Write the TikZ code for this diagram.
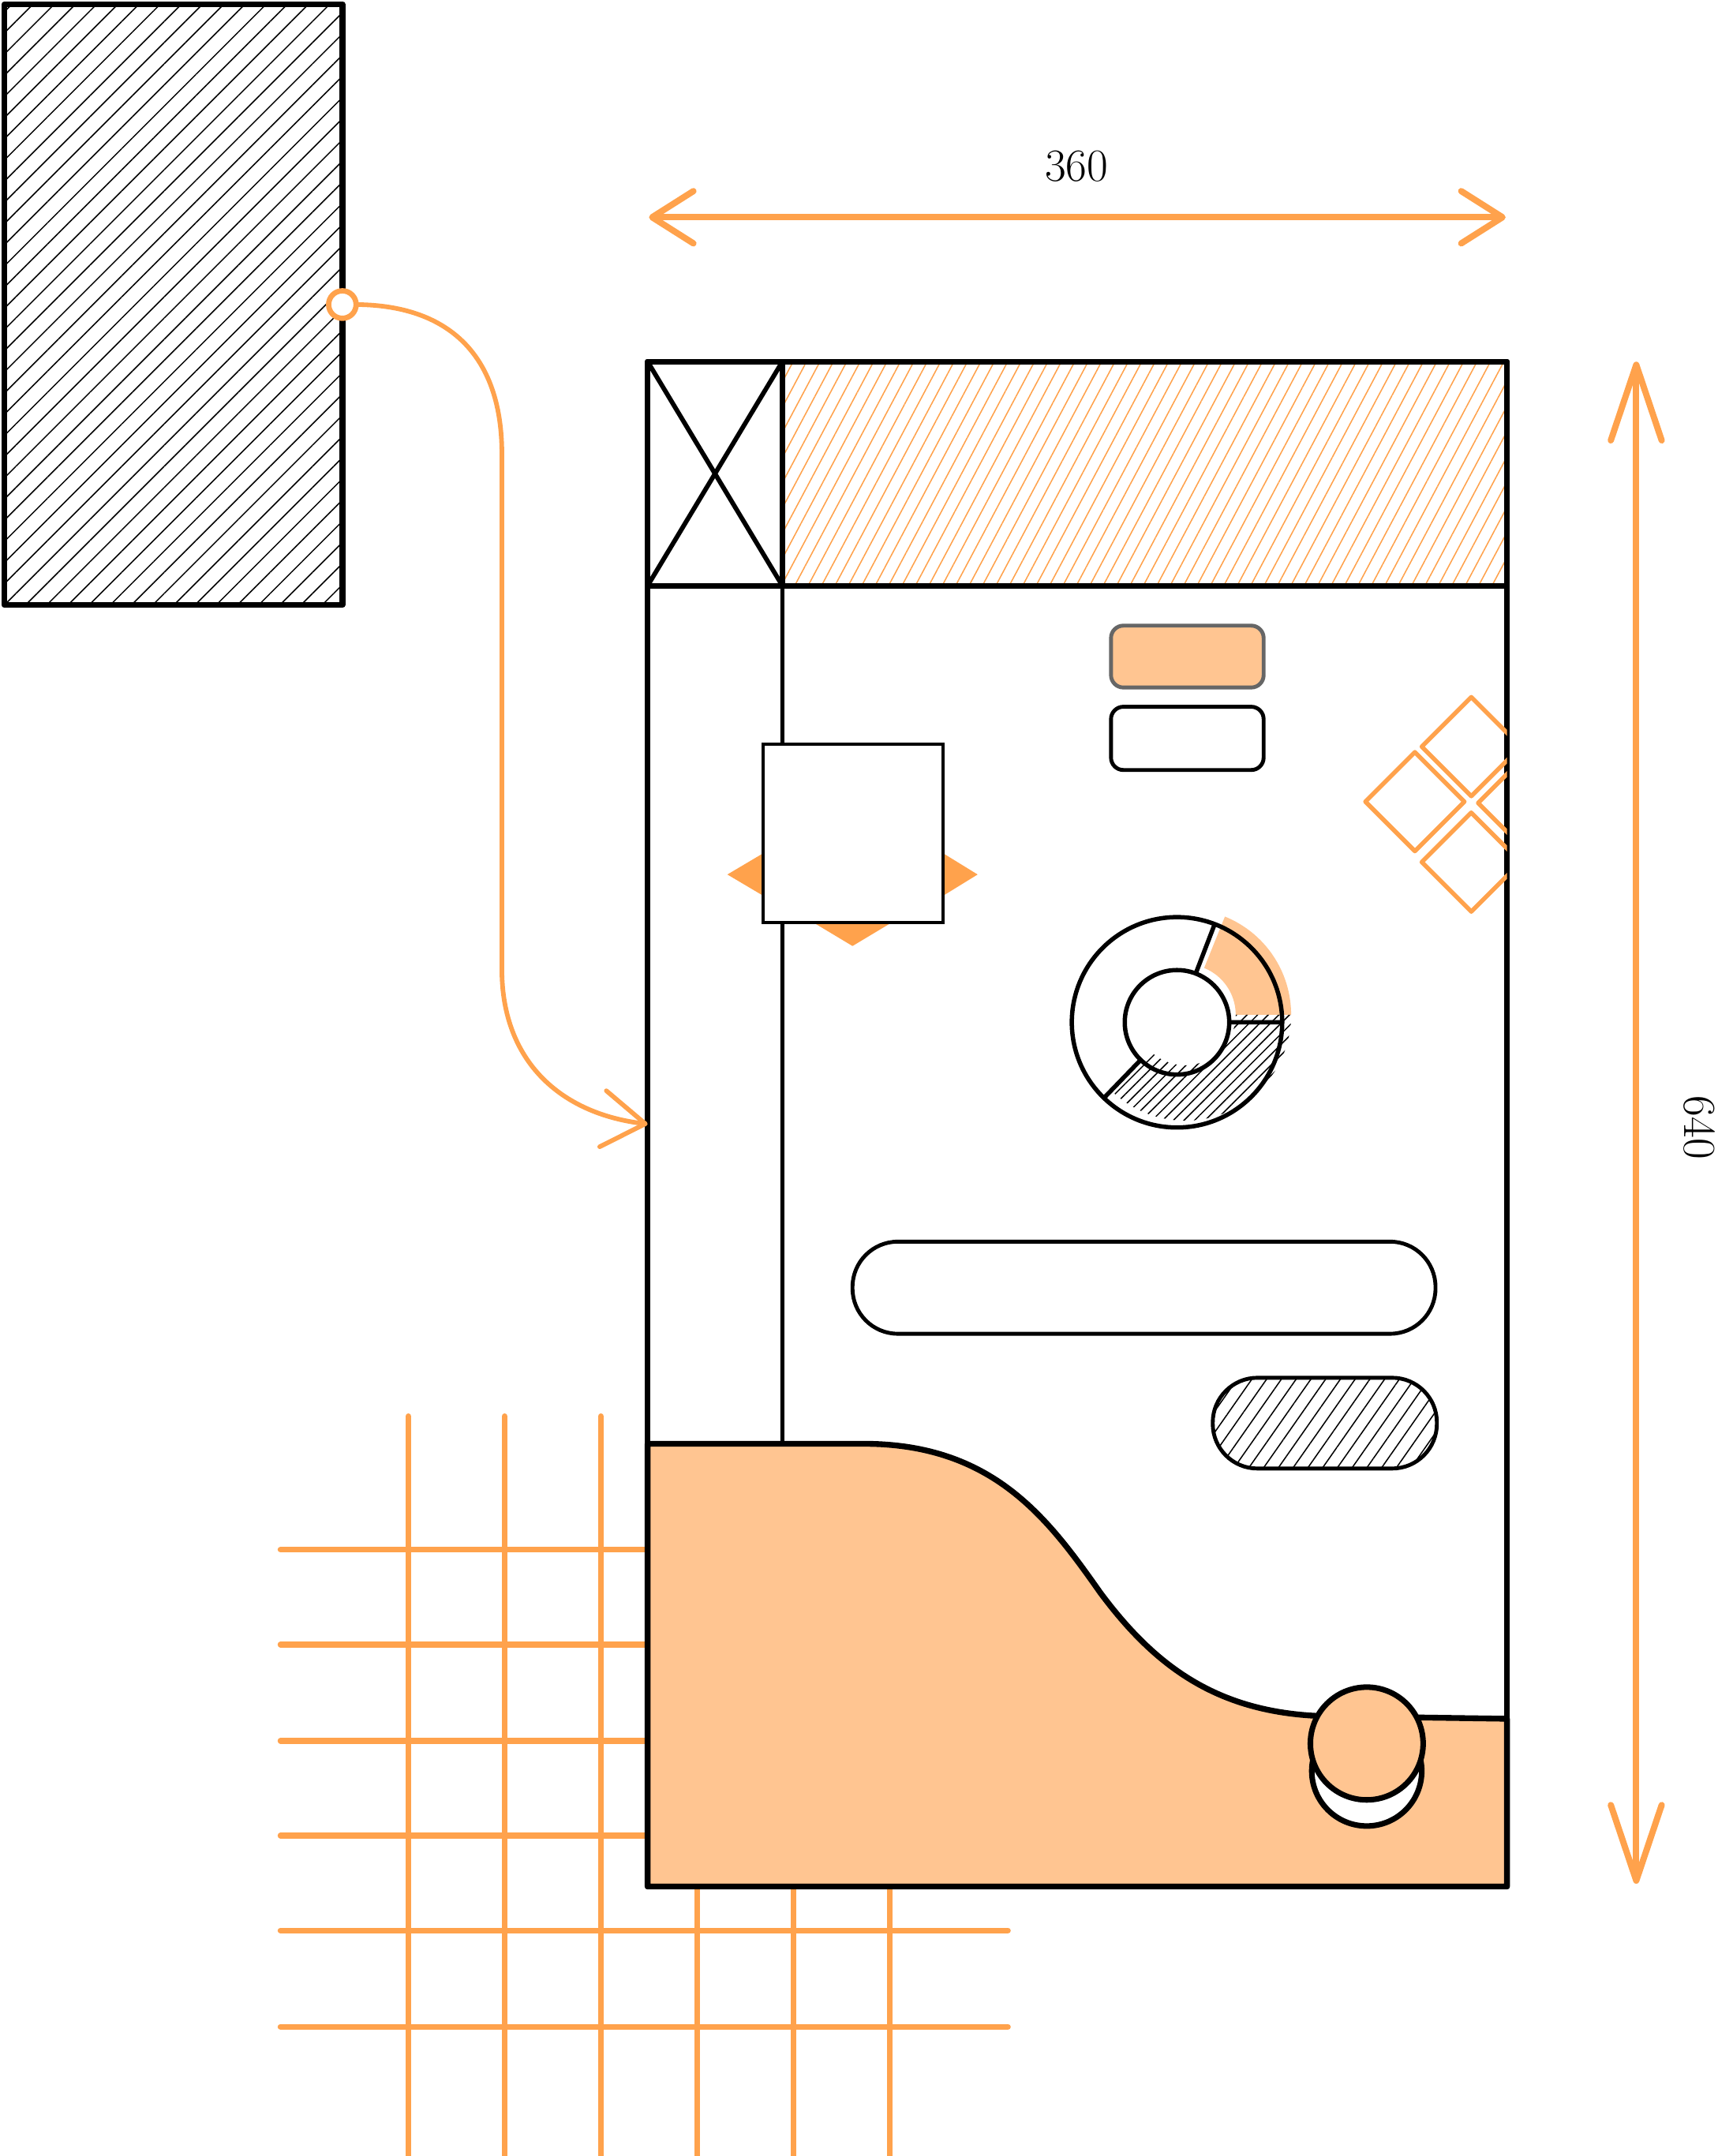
\documentclass[tikz,border=0pt]{standalone}
\usepackage{tikz}
\usetikzlibrary{positioning,arrows.meta,calc,patterns.meta}
\definecolor{skorange}{HTML}{FFA24C}
\definecolor{skpeach}{HTML}{FFC591}
\definecolor{skgray}{HTML}{666666}
\tikzset{
  dimtip/.tip={Straight Barb[length=6mm,width=7.6mm,round]},
  vdimtip/.tip={Straight Barb[length=11mm,width=7.4mm,round]},
  wiretip/.tip={Straight Barb[length=6.2mm,width=8.2mm,round]},
}

\begin{document}
\begin{tikzpicture}[x=0.2mm,y=-0.2mm,node distance=3mm,
  plain/.style={rectangle,inner sep=0pt,outer sep=0pt},
  outline/.style={draw=black,line width=2.4pt,line join=round},
  thinline/.style={draw=black,line width=1.6pt},
  gridline/.style={draw=skorange,line width=2.4pt,line cap=round},
  dimline/.style={draw=skorange,line width=2.6pt,line cap=round},
  wire/.style={draw=skorange,line width=1.9pt,line cap=round,-wiretip},
  pillbtn/.style={plain,thinline,line width=1.6pt,rounded corners=1.8mm,minimum width=22.2mm,minimum height=9.2mm},
  hatchblack/.style={pattern={Lines[angle=45,distance=6.2pt,line width=0.5pt]},pattern color=black},
  hatchorange/.style={pattern={Lines[angle=62,distance=4.9pt,line width=0.5pt]},pattern color=skorange},
  hatchpill/.style={pattern={Lines[angle=55,distance=5pt,line width=0.5pt]},pattern color=black},
  hatchfine/.style={pattern={Lines[angle=45,distance=3.1pt,line width=0.5pt]},pattern color=black},
  label/.style={font=\fontsize{19}{22}\selectfont,inner sep=0pt}]
\useasboundingbox (0,0) rectangle (1249,1568);

\foreach \gx in {297,367,...,647}
  \draw[gridline] (\gx,1030) -- (\gx,1568);
\foreach \gy in {1127,1196,1266,1335,1404,1474}
  \draw[gridline] (204,\gy) -- (733,\gy);

\node[plain,outline,hatchblack,minimum width=49.2mm,minimum height=87.4mm] (ref) at (126,221.5) {};
\node[circle,draw=skorange,line width=2.2pt,fill=white,minimum size=4mm,inner sep=0pt,outer sep=0pt] (hook) at (ref.east) {};

\node[plain,outline,fill=white,minimum width=125mm,minimum height=221.8mm] (phone) at (783.5,817.5) {};
\node[plain,outline,minimum width=19.6mm,minimum height=32.6mm,anchor=north west] (xbox) at (phone.north west) {};
\node[plain,outline,hatchorange,minimum width=105.4mm,minimum height=32.6mm,anchor=north west] (header) at (xbox.north east) {};
\draw[line width=1.9pt] (xbox.north west) -- (xbox.south east) (xbox.south west) -- (xbox.north east);
\coordinate (waveTop) at (569,1050);
\draw[thinline] (xbox.south east) -- (waveTop);

\coordinate (bendA) at (365,330);
\coordinate (bendB) at (365,705);
\draw[wire] (hook.east) .. controls (330,222) and (365,262) .. (bendA) -- (bendB)
  .. controls (365,772) and (408,810) .. (phone.west);

\node[pillbtn,fill=skpeach,draw=skgray,minimum height=9mm] (btnA) at (863.5,477.5) {};
\node[pillbtn,fill=white,below=2.8mm of btnA] (btnB) {};

\fill[skorange] (529,636) -- (556,620) -- (556,652) -- cycle;
\fill[skorange] (711,636) -- (685,620) -- (685,652) -- cycle;
\fill[skorange] (620,688) -- (590,670) -- (650,670) -- cycle;
\node[plain,draw=black,line width=1.3pt,fill=white,minimum width=26.2mm,minimum height=26mm] (card) at (620.5,606) {};

\begin{scope}
  \clip (phone.north west) rectangle (phone.south east);
  \foreach \cx/\cy in {1029/583,1070/543,1070/627,1111/584}
    \draw[draw=skorange,line width=1.8pt,line join=round] (\cx-36,\cy) -- (\cx,\cy-36) -- (\cx+36,\cy) -- (\cx,\cy+36) -- cycle;
\end{scope}

\coordinate (slice) at (862,738);
\fill[skpeach] ($(slice)+(0:7.34mm)$) -- ($(slice)+(0:15.4mm)$) arc[start angle=0,end angle=68,radius=15.4mm]
  -- ($(slice)+(68:7.34mm)$) arc[start angle=68,end angle=0,radius=7.34mm] -- cycle;
\path[hatchfine] ($(slice)+(226:7.34mm)$) -- ($(slice)+(226:15.4mm)$) arc[start angle=226,end angle=360,radius=15.4mm]
  -- ($(slice)+(0:7.34mm)$) arc[start angle=360,end angle=226,radius=7.34mm] -- cycle;
\node[circle,draw,line width=1.8pt,minimum size=30.6mm,inner sep=0pt,outer sep=0pt] (donut) at (856,743.5) {};
\node[circle,draw,line width=1.8pt,minimum size=15.2mm,inner sep=0pt,outer sep=0pt] (hole) at (donut.center) {};
\draw[line width=1.8pt] (hole.69.5) -- (donut.69.5) (hole.0) -- (donut.0) (hole.226) -- (donut.226);

\node[plain,thinline,fill=white,rounded corners=6.6mm,minimum width=84.8mm,minimum height=13.4mm] (bar) at (832,936.5) {};
\node[plain,thinline,hatchpill,rounded corners=6.5mm,minimum width=32.6mm,minimum height=13.2mm] (chip) at (963.5,1035) {};

\draw[outline,fill=skpeach] (phone.south west) -- (471,1050) -- (628,1050)
  .. controls (722,1050) and (762,1104) .. (800,1158)
  .. controls (840,1212) and (885,1245) .. (960,1248) -- (1096,1250) -- (phone.south east) -- cycle;
\node[circle,draw=black,line width=2.3pt,fill=white,minimum size=16mm,inner sep=0pt] (knobShadow) at (994,1288) {};
\node[circle,draw=black,line width=2.3pt,fill=skpeach,minimum size=16.4mm,inner sep=0pt] (knob) at (994,1268) {};

\coordinate (dimL) at (472,158);
\coordinate (dimR) at (1095,158);
\draw[dimline,dimtip-dimtip] (dimL) -- (dimR);
\node[label] (w360) at (783,121) {360};

\coordinate (dimT) at (1190,263);
\coordinate (dimB) at (1190,1370);
\draw[dimline,vdimtip-vdimtip] (dimT) -- (dimB);
\node[label,rotate=-90] (h640) at (1236,820) {640};
\end{tikzpicture}
\end{document}
